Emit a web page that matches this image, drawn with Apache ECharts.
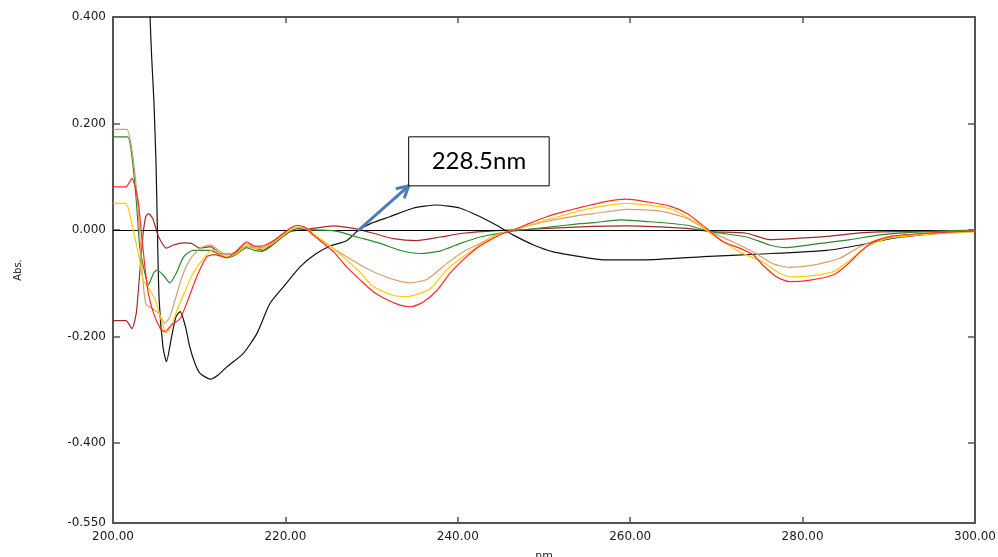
<!DOCTYPE html>
<html>
<head>
<meta charset="utf-8">
<script src="https://cdn.jsdelivr.net/npm/echarts@6/dist/echarts.min.js"></script>
<style>
  html, body { margin: 0; padding: 0; background: #fff; }
  #chart { width: 998px; height: 557px; }
</style>
</head>
<body>
<div id="chart"></div>
<script>
// Wavelength range and tick labels
const xMin = 200, xMax = 300, xStep = 20;
const yMin = -0.55, yMax = 0.4;
const yTickLabels = [-0.55, -0.4, -0.2, 0, 0.2, 0.4];
const yInnerTicks = [-0.4, -0.2, 0, 0.2];
const peakLabel = '228.5nm';
const peakPoint = [228.5, 0];
const peakBox = [[234.3, 0.175], [250.6, 0.083]];

// Derivative spectra, [wavelength nm, Abs.]
const blackPts = [[203.5,1.2],[204.0,0.62],[204.3,0.40],[204.5,0.32],[204.75,0.24],[205.0,0.12],[205.15,0.0],[205.35,-0.13],[205.8,-0.22],[206.2,-0.247],[206.8,-0.20],[207.3,-0.163],[207.8,-0.153],[208.4,-0.181],[208.9,-0.219],[209.5,-0.250],[210.1,-0.269],[211.3,-0.280],[212.2,-0.272],[213.2,-0.257],[215.1,-0.232],[216.7,-0.194],[218.2,-0.138],[219.8,-0.106],[221.7,-0.069],[223.5,-0.045],[225.2,-0.030],[227.1,-0.020],[228.5,0.0],[230.0,0.013],[232.1,0.025],[234.8,0.041],[237.5,0.047],[240.3,0.041],[242.6,0.025],[244.5,0.009],[246.4,-0.009],[248.8,-0.028],[251.1,-0.041],[254.2,-0.050],[256.9,-0.056],[261.5,-0.056],[268.5,-0.050],[275.1,-0.045],[282.8,-0.038],[286.7,-0.028],[290.5,-0.015],[294.4,-0.008],[298.3,-0.003],[300,-0.001]];

const maroonPts = [[200,-0.170],[201.5,-0.170],[202.2,-0.185],[202.7,-0.156],[203.1,-0.081],[203.5,-0.006],[203.8,0.025],[204.1,0.031],[204.6,0.022],[205.3,-0.013],[206.2,-0.034],[207.0,-0.028],[208.2,-0.024],[209.1,-0.025],[210.1,-0.034],[211.3,-0.031],[212.4,-0.044],[213.9,-0.045],[215.5,-0.030],[217.4,-0.038],[219.0,-0.019],[220.5,-0.003],[222.0,0.001],[223.2,0.003],[225.6,0.008],[227.9,0.003],[230.2,-0.006],[232.5,-0.016],[235.2,-0.020],[238.0,-0.013],[240.6,-0.006],[244.5,-0.001],[248.0,0.001],[254.2,0.006],[259.6,0.008],[266.6,0.003],[269.3,-0.003],[273.5,-0.006],[276.2,-0.018],[278.9,-0.016],[282.8,-0.012],[287.0,-0.005],[291.0,-0.003],[300,-0.003]];

const greenPts = [[200,0.175],[201.7,0.175],[202.2,0.138],[202.7,0.056],[203.1,-0.031],[203.7,-0.081],[204.1,-0.103],[204.7,-0.081],[205.1,-0.075],[205.8,-0.084],[206.6,-0.099],[207.4,-0.079],[208.2,-0.050],[209.3,-0.038],[211.3,-0.038],[212.4,-0.047],[213.2,-0.052],[214.3,-0.046],[215.5,-0.033],[216.4,-0.038],[217.3,-0.040],[218.4,-0.030],[219.6,-0.014],[220.6,-0.002],[221.5,0.003],[222.5,0.001],[224.0,0.0],[225.9,-0.002],[228.3,-0.013],[231.0,-0.025],[233.3,-0.038],[235.6,-0.044],[238.0,-0.039],[240.3,-0.025],[242.6,-0.013],[246.4,-0.002],[250.3,0.005],[254.2,0.012],[255.8,0.014],[258.9,0.019],[262.0,0.016],[266.6,0.009],[269.3,-0.003],[273.5,-0.013],[276.2,-0.028],[278.1,-0.033],[282.0,-0.025],[285.5,-0.018],[289.0,-0.009],[294.0,-0.003],[300,0.0]];

const tanPts = [[200,0.189],[201.6,0.189],[202.2,0.150],[202.7,0.081],[203.1,-0.006],[203.4,-0.081],[203.8,-0.138],[204.5,-0.147],[205.3,-0.156],[206.0,-0.175],[206.6,-0.163],[207.2,-0.131],[208.0,-0.088],[208.9,-0.056],[210.1,-0.034],[211.3,-0.028],[212.4,-0.040],[213.2,-0.047],[214.3,-0.040],[215.5,-0.025],[216.4,-0.032],[217.3,-0.033],[218.4,-0.024],[219.6,-0.010],[220.6,0.001],[221.5,0.005],[222.4,0.002],[223.2,-0.009],[225.2,-0.031],[227.1,-0.050],[229.1,-0.069],[231.0,-0.084],[233.0,-0.095],[234.5,-0.099],[236.4,-0.093],[238.7,-0.063],[240.6,-0.041],[242.6,-0.025],[244.5,-0.009],[246.4,0.0],[250.3,0.016],[254.2,0.028],[255.8,0.031],[259.6,0.039],[263.4,0.036],[266.6,0.022],[268.9,0.0],[271.9,-0.022],[274.6,-0.044],[276.5,-0.063],[278.5,-0.070],[281.2,-0.066],[284.3,-0.053],[286.7,-0.031],[289.0,-0.017],[294.0,-0.006],[300,-0.002]];

const yellowPts = [[200,0.050],[201.5,0.050],[202.0,0.025],[202.6,-0.019],[203.1,-0.056],[203.5,-0.094],[204.3,-0.113],[204.9,-0.131],[205.6,-0.169],[206.2,-0.194],[206.8,-0.178],[207.6,-0.144],[208.4,-0.113],[209.3,-0.081],[210.5,-0.053],[211.6,-0.036],[212.4,-0.045],[213.2,-0.050],[214.3,-0.044],[215.5,-0.030],[216.4,-0.034],[217.3,-0.035],[218.4,-0.026],[219.6,-0.012],[220.6,0.0],[221.5,0.006],[222.4,0.004],[223.2,-0.006],[225.2,-0.030],[227.1,-0.056],[228.7,-0.080],[230.2,-0.106],[232.4,-0.122],[234.1,-0.125],[236.8,-0.110],[238.7,-0.075],[240.6,-0.050],[242.6,-0.028],[244.5,-0.009],[246.4,0.0],[250.3,0.019],[254.6,0.038],[259.6,0.050],[264.6,0.040],[268.1,0.010],[269.3,-0.006],[272.7,-0.041],[275.4,-0.060],[277.0,-0.078],[278.5,-0.088],[280.9,-0.086],[283.6,-0.078],[285.5,-0.056],[287.4,-0.031],[289.8,-0.016],[294.4,-0.008],[300,-0.003]];

const redPts = [[200,0.081],[201.5,0.081],[202.2,0.097],[202.9,0.056],[203.3,-0.006],[203.7,-0.069],[204.1,-0.119],[204.7,-0.156],[205.5,-0.185],[206.0,-0.191],[206.8,-0.178],[207.8,-0.166],[208.7,-0.131],[209.7,-0.088],[210.9,-0.050],[211.8,-0.046],[213.2,-0.052],[214.3,-0.040],[215.5,-0.022],[216.4,-0.030],[217.2,-0.030],[218.4,-0.022],[219.6,-0.008],[220.6,0.004],[221.4,0.009],[222.3,0.005],[223.2,-0.009],[224.4,-0.025],[225.6,-0.041],[227.1,-0.069],[228.7,-0.094],[230.2,-0.116],[231.8,-0.131],[233.3,-0.141],[234.6,-0.144],[236.0,-0.135],[237.6,-0.113],[239.1,-0.081],[240.6,-0.056],[242.2,-0.034],[243.7,-0.019],[245.3,-0.006],[246.4,0.0],[248.4,0.013],[250.3,0.025],[252.2,0.034],[254.6,0.044],[257.3,0.054],[259.6,0.058],[261.9,0.053],[264.6,0.045],[266.6,0.031],[268.1,0.013],[269.3,-0.003],[270.8,-0.022],[272.7,-0.034],[274.3,-0.047],[275.4,-0.066],[277.0,-0.088],[278.5,-0.097],[280.9,-0.094],[283.6,-0.084],[285.1,-0.066],[286.7,-0.041],[288.2,-0.022],[290.5,-0.011],[294.4,-0.006],[298.0,-0.003],[300,-0.002]];

const seriesDefs = [
  { name: 'S1', color: '#111111', data: blackPts },
  { name: 'S2', color: '#a02a2a', data: maroonPts },
  { name: 'S3', color: '#2a8a2a', data: greenPts },
  { name: 'S4', color: '#d4a070', data: tanPts },
  { name: 'S5', color: '#ffcc00', data: yellowPts },
  { name: 'S6', color: '#ff2a2a', data: redPts }
];

const axisColor = '#555555';
const labelFont = { fontFamily: 'DejaVu Sans', fontSize: 12, color: '#1a1a1a' };

const chart = echarts.init(document.getElementById('chart'), null, { renderer: 'canvas' });

const series = seriesDefs.map((s, i) => ({
  name: s.name,
  type: 'line',
  data: s.data,
  showSymbol: false,
  smooth: 0.2,
  clip: true,
  lineStyle: { color: s.color, width: 1.2 },
  z: 3 + i,
  animation: false
}));

// zero baseline
series.unshift({
  type: 'line',
  data: [],
  silent: true,
  z: 2,
  markLine: {
    silent: true,
    symbol: ['none', 'none'],
    label: { show: false },
    lineStyle: { color: '#000', width: 1, type: 'solid' },
    data: [{ yAxis: 0 }],
    animation: false
  }
});

const frameLine = { show: true, onZero: false, lineStyle: { color: axisColor, width: 2 } };

chart.setOption({
  animation: false,
  backgroundColor: '#fff',
  grid: { left: 113, right: 23, top: 17, bottom: 34, containLabel: false, outerBoundsMode: 'none' },
  xAxis: [
    {
      type: 'value', min: xMin, max: xMax, interval: xStep,
      name: 'nm', nameLocation: 'middle', nameGap: 28,
      nameTextStyle: { fontFamily: 'DejaVu Sans', fontSize: 11, color: '#222' },
      axisLine: frameLine,
      axisTick: { show: true, inside: true, length: 6, lineStyle: { color: axisColor, width: 1.5 } },
      axisLabel: Object.assign({ margin: 8, formatter: v => v.toFixed(2) }, labelFont),
      splitLine: { show: false }
    },
    {
      type: 'value', position: 'top', min: xMin, max: xMax, interval: xStep,
      axisLine: frameLine,
      axisTick: { show: true, inside: true, length: 6, lineStyle: { color: axisColor, width: 1.5 } },
      axisLabel: { show: false },
      splitLine: { show: false }
    }
  ],
  yAxis: [
    {
      type: 'value', min: yMin, max: yMax,
      name: 'Abs.', nameLocation: 'middle', nameRotate: 90, nameGap: 90,
      nameTextStyle: { fontFamily: 'DejaVu Sans', fontSize: 10, color: '#222' },
      axisLine: frameLine,
      axisTick: { show: true, inside: true, length: 7, customValues: yInnerTicks, lineStyle: { color: axisColor, width: 1.5 } },
      axisLabel: Object.assign({ margin: 7, customValues: yTickLabels, formatter: v => v.toFixed(3) }, labelFont),
      splitLine: { show: false }
    },
    {
      type: 'value', position: 'right', min: yMin, max: yMax,
      axisLine: frameLine,
      axisTick: { show: true, inside: true, length: 7, customValues: yInnerTicks, lineStyle: { color: axisColor, width: 1.5 } },
      axisLabel: { show: false },
      splitLine: { show: false }
    }
  ],
  series: series
});

// Callout: arrow from the zero crossing to a labelled box
function drawCallout() {
  const p0 = chart.convertToPixel({ gridIndex: 0 }, peakPoint);
  const b0 = chart.convertToPixel({ gridIndex: 0 }, peakBox[0]);
  const b1 = chart.convertToPixel({ gridIndex: 0 }, peakBox[1]);
  const tip = [b0[0], b1[1]];
  const ang = Math.atan2(tip[1] - p0[1], tip[0] - p0[0]);
  const hl = 12, ha = 0.5;
  const h1 = [tip[0] - hl * Math.cos(ang - ha), tip[1] - hl * Math.sin(ang - ha)];
  const h2 = [tip[0] - hl * Math.cos(ang + ha), tip[1] - hl * Math.sin(ang + ha)];
  const arrowColor = '#4a7ebb';
  chart.setOption({
    graphic: [
      { type: 'line', z: 100, shape: { x1: p0[0], y1: p0[1], x2: tip[0], y2: tip[1] },
        style: { stroke: arrowColor, lineWidth: 3, lineCap: 'round' } },
      { type: 'polyline', z: 100, shape: { points: [h1, tip, h2] },
        style: { stroke: arrowColor, lineWidth: 3, fill: null, lineCap: 'round', lineJoin: 'miter' } },
      { type: 'rect', z: 101, shape: { x: b0[0], y: b0[1], width: b1[0] - b0[0], height: b1[1] - b0[1] },
        style: { fill: '#fff', stroke: '#000', lineWidth: 1 } },
      { type: 'text', z: 102, x: (b0[0] + b1[0]) / 2, y: (b0[1] + b1[1]) / 2,
        style: { text: peakLabel, fontFamily: 'Lato', fontSize: 24, fill: '#000', align: 'center', verticalAlign: 'middle' } }
    ]
  });
}
drawCallout();
</script>
</body>
</html>
